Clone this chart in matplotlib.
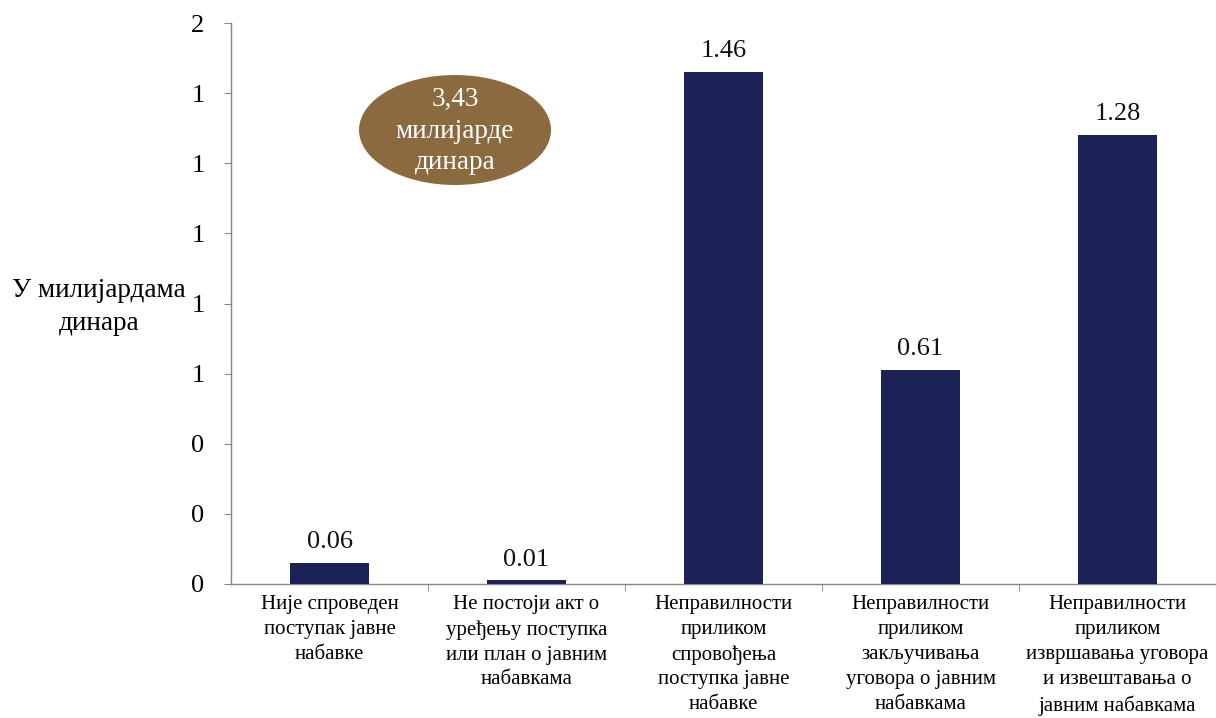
import matplotlib
matplotlib.use("Agg")
import matplotlib.pyplot as plt
from matplotlib.patches import Ellipse
import numpy as np

categories = [
    "Није спроведен\nпоступак јавне\nнабавке",
    "Не постоји акт о\nуређењу поступка\nили план о јавним\nнабавкама",
    "Неправилности\nприликом\nспровођења\nпоступка јавне\nнабавке",
    "Неправилности\nприликом\nзакључивања\nуговора о јавним\nнабавкама",
    "Неправилности\nприликом\nизвршавања уговора\nи извештавања о\nјавним набавкама",
]
values = [0.06, 0.01, 1.46, 0.61, 1.28]
value_labels = ["0.06", "0.01", "1.46", "0.61", "1.28"]
ytick_values = [0.0, 0.2, 0.4, 0.6, 0.8, 1.0, 1.2, 1.4, 1.6]
ytick_labels = ["0", "0", "0", "1", "1", "1", "1", "1", "2"]
ylabel = "У милијардама\nдинара"
bubble_text = "3,43\nмилијарде\nдинара"

plt.rcParams['font.family'] = ['Liberation Serif', 'DejaVu Serif']

fig = plt.figure(figsize=(12.16, 7.18), dpi=100)
ax = fig.add_axes([231/1216, (718-584)/718, 1 - 231/1216, (584-23)/718])

x = np.arange(len(values))
ax.bar(x, values, width=0.4, color="#1b2255", zorder=3)
for xi, v, lab in zip(x, values, value_labels):
    ax.annotate(lab, (xi, v), xytext=(0, 7), textcoords="offset points",
                ha="center", va="bottom", fontsize=19, color="#111111")

ax.set_xlim(-0.5, len(values) - 0.5)
ax.set_ylim(0, 1.6)
ax.set_yticks(ytick_values)
ax.set_yticklabels(ytick_labels, fontsize=19)
ax.set_xticks(x)
ax.set_xticklabels(categories, fontsize=15, linespacing=1.42)
ax.set_xticks(np.arange(0.5, len(values) - 0.5, 1.0), minor=True)
ax.tick_params(axis="x", which="major", length=0, pad=8)
ax.tick_params(axis="x", which="minor", length=5, color="#888888")
ax.tick_params(axis="y", length=5, color="#888888", pad=14)

for s in ["top", "right"]:
    ax.spines[s].set_visible(False)
for s in ["left", "bottom"]:
    ax.spines[s].set_color("#888888")
    ax.spines[s].set_linewidth(1.0)

fig.text(99/1216, 1 - 307/718, ylabel, ha="center", va="center",
         fontsize=19.5, linespacing=1.4)

ell = Ellipse((455/1216, 1 - 130/718), 192/1216, 110/718,
              transform=fig.transFigure, facecolor="#8a6a3e",
              edgecolor="none", zorder=5)
fig.patches.append(ell)
fig.text(455/1216, 1 - 131/718, bubble_text, ha="center", va="center",
         fontsize=19.5, color="white", linespacing=1.35, zorder=6)

fig.savefig("out.png", dpi=100)
